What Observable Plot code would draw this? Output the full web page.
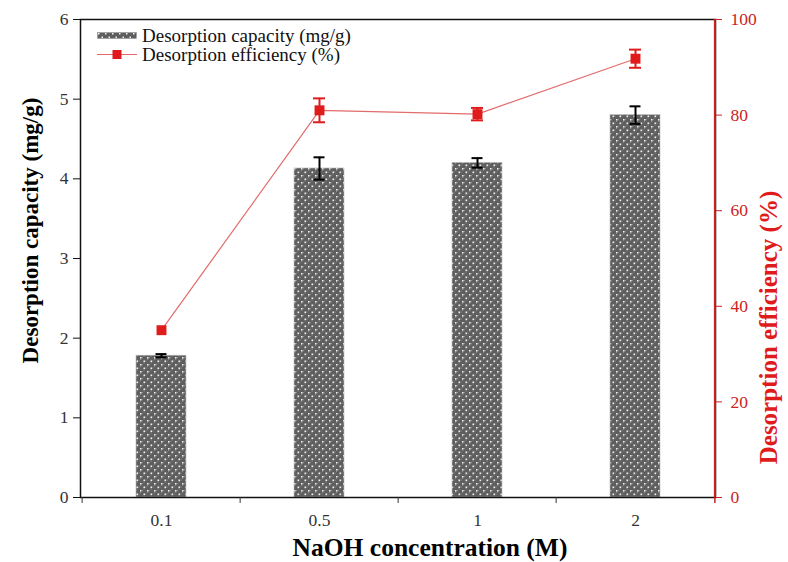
<!DOCTYPE html>
<html>
<head>
<meta charset="utf-8">
<script src="https://cdn.jsdelivr.net/npm/d3@7"></script>
<script src="https://cdn.jsdelivr.net/npm/@observablehq/plot@0.6"></script>
<style>
  body { margin: 0; background: white; }
  #wrap { position: relative; width: 788px; height: 562px; font-family: "Liberation Serif", "Times New Roman", serif; }
  #chart svg, #chart svg text { font-family: "Liberation Serif", "Times New Roman", serif !important; }
  #legend { position: absolute; left: 97px; top: 26px; font-size: 19px; color: #111; }
  .row { display: flex; align-items: center; height: 19px; }
  .row svg { margin-right: 5px; }
</style>
</head>
<body>
<div id="wrap">
  <div id="chart"></div>
  <div id="legend"></div>
</div>
<script>
const categories = ["0.1", "0.5", "1", "2"];
const capacity = [1.78, 4.13, 4.20, 4.80];
const capacityErr = [0.02, 0.14, 0.06, 0.11];
const efficiency = [35.0, 81.0, 80.2, 91.8];
const efficiencyErr = [0, 2.5, 1.3, 1.9];
const leftTicks = [0, 1, 2, 3, 4, 5, 6];
const rightTicks = [0, 20, 40, 60, 80, 100];
const seriesNames = ["Desorption capacity (mg/g)", "Desorption efficiency (%)"];
const xTitle = "NaOH concentration (M)";

const data = categories.map((c, i) => ({
  c, cap: capacity[i], capErr: capacityErr[i], eff: efficiency[i], effErr: efficiencyErr[i]
}));
const effErrData = data.filter(d => d.effErr > 0);

const W = 788, H = 562, ml = 80, mr = 73, mt = 19, mb = 65;
const bw = (W - ml - mr) / categories.length;
const k = 6 / 100; // efficiency -> capacity axis
const RED = "#e01b1b";
const AXRED = "#cc2222";
const LINERED = "#e36b6b";
const FONT = "Liberation Serif";

function defsMark() {
  const defs = d3.create("svg:defs");
  const p = defs.append("pattern").attr("id", "dots").attr("width", 7).attr("height", 7)
    .attr("patternUnits", "userSpaceOnUse");
  p.append("rect").attr("width", 7).attr("height", 7).attr("fill", "#5e5e5e");
  p.append("rect").attr("x", 1.75).attr("y", 0).attr("width", 1.2).attr("height", 1.2).attr("fill", "#8a8a8a");
  p.append("rect").attr("x", 5.25).attr("y", 3.5).attr("width", 1.2).attr("height", 1.2).attr("fill", "#8a8a8a");
  p.append("rect").attr("x", 0).attr("y", 1.75).attr("width", 1.2).attr("height", 1.2).attr("fill", "#8a8a8a");
  p.append("rect").attr("x", 3.5).attr("y", 5.25).attr("width", 1.2).attr("height", 1.2).attr("fill", "#8a8a8a");
  p.append("rect").attr("x", 0).attr("y", 0).attr("width", 1.5).attr("height", 1.5).attr("fill", "#f2f2f2");
  p.append("rect").attr("x", 3.5).attr("y", 3.5).attr("width", 1.5).attr("height", 1.5).attr("fill", "#f2f2f2");
  return defs.node();
}

const chart = Plot.plot({
  width: W, height: H,
  marginLeft: ml, marginRight: mr, marginTop: mt, marginBottom: mb,
  style: { fontFamily: FONT, fontSize: "17px", background: "white", overflow: "visible" },
  x: { type: "band", domain: categories, padding: 0 },
  y: { domain: [0, 6] },
  marks: [
    defsMark,
    Plot.barY(data, { x: "c", y: "cap", fill: "url(#dots)", stroke: "#bbb", strokeWidth: 0.6, insetLeft: 54, insetRight: 54 }),
    Plot.ruleX(data, { x: "c", y1: d => d.cap - d.capErr, y2: d => d.cap + d.capErr, stroke: "black", strokeWidth: 2 }),
    Plot.tickY(data, { x: "c", y: d => d.cap + d.capErr, stroke: "black", strokeWidth: 2, insetLeft: 73.5, insetRight: 73.5 }),
    Plot.tickY(data, { x: "c", y: d => d.cap - d.capErr, stroke: "black", strokeWidth: 2, insetLeft: 73.5, insetRight: 73.5 }),
    Plot.line(data, { x: "c", y: d => d.eff * k, stroke: LINERED, strokeWidth: 1.2 }),
    Plot.ruleX(effErrData, { x: "c", y1: d => (d.eff - d.effErr) * k, y2: d => (d.eff + d.effErr) * k, stroke: RED, strokeWidth: 2 }),
    Plot.tickY(effErrData, { x: "c", y: d => (d.eff + d.effErr) * k, stroke: RED, strokeWidth: 2, insetLeft: 73, insetRight: 73 }),
    Plot.tickY(effErrData, { x: "c", y: d => (d.eff - d.effErr) * k, stroke: RED, strokeWidth: 2, insetLeft: 73, insetRight: 73 }),
    Plot.dot(data, { x: "c", y: d => d.eff * k, symbol: "square", fill: RED, r: 5.6 }),
    // frame
    Plot.frame({ stroke: "#111", strokeWidth: 1.5 }),
    Plot.ruleX([categories[categories.length - 1]], { dx: bw / 2, stroke: AXRED, strokeWidth: 2 }),
    // x boundary ticks
    Plot.ruleX(categories, { x: d => d, dx: -bw / 2, y1: 0, y2: -0.075, stroke: "#333", strokeWidth: 1 }),
    Plot.ruleX([categories[categories.length - 1]], { x: d => d, dx: bw / 2, y1: 0, y2: -0.075, stroke: AXRED, strokeWidth: 1.5 }),
    // axes
    Plot.axisX({ tickSize: 0, tickPadding: 16, label: null, fontSize: 17.5, fontFamily: FONT, color: "#333" }),
    Plot.axisY({ ticks: leftTicks, tickFormat: d => String(d), tickSize: 7, tickPadding: 5, label: null,
      fontSize: 17.5, fontFamily: FONT, color: "#333", stroke: "#111" }),
    Plot.axisY({ anchor: "right", ticks: rightTicks.map(v => v * k), tickFormat: d => String(Math.round(d / k)),
      tickSize: 6, tickPadding: 9, label: null, fontSize: 17.5, fontFamily: FONT, color: AXRED, stroke: AXRED }),
    // titles
    Plot.text([seriesNames[0]], { text: d => d, frameAnchor: "left", textAnchor: "middle", dx: -50, dy: -28, rotate: -90,
      fontSize: 23, fontWeight: "bold", fontFamily: FONT, fill: "black" }),
    Plot.text([seriesNames[1]], { text: d => d, frameAnchor: "right", textAnchor: "middle", dx: 53, dy: 69, rotate: -90,
      fontSize: 25, fontWeight: "bold", fontFamily: FONT, fill: RED }),
    Plot.text([xTitle], { text: d => d, frameAnchor: "bottom", textAnchor: "middle", dy: 58, dx: 32,
      fontSize: 25.5, fontWeight: "bold", fontFamily: FONT, fill: "black" })
  ]
});
document.getElementById("chart").appendChild(chart);

// legend
const legend = d3.select("#legend");
const r1 = legend.append("div").attr("class", "row");
const s1 = r1.append("svg").attr("width", 40).attr("height", 19);
const d1 = s1.append("defs").append("pattern").attr("id", "ldots").attr("width", 7).attr("height", 7).attr("patternUnits", "userSpaceOnUse");
d1.append("rect").attr("width", 7).attr("height", 7).attr("fill", "#5e5e5e");
d1.append("rect").attr("x", 1).attr("y", 0).attr("width", 1.5).attr("height", 1.5).attr("fill", "#f2f2f2");
d1.append("rect").attr("x", 4.5).attr("y", 3.5).attr("width", 1.5).attr("height", 1.5).attr("fill", "#f2f2f2");
s1.append("rect").attr("x", 0.5).attr("y", 6.5).attr("width", 39).attr("height", 6).attr("fill", "url(#ldots)").attr("stroke", "#999").attr("stroke-width", 0.6);
r1.append("span").text(seriesNames[0]);
const r2 = legend.append("div").attr("class", "row");
const s2 = r2.append("svg").attr("width", 40).attr("height", 19);
s2.append("line").attr("x1", 0).attr("x2", 40).attr("y1", 9.5).attr("y2", 9.5).attr("stroke", LINERED).attr("stroke-width", 1.2);
s2.append("rect").attr("x", 15.5).attr("y", 5).attr("width", 9).attr("height", 9).attr("fill", RED);
r2.append("span").text(seriesNames[1]);
</script>
</body>
</html>
